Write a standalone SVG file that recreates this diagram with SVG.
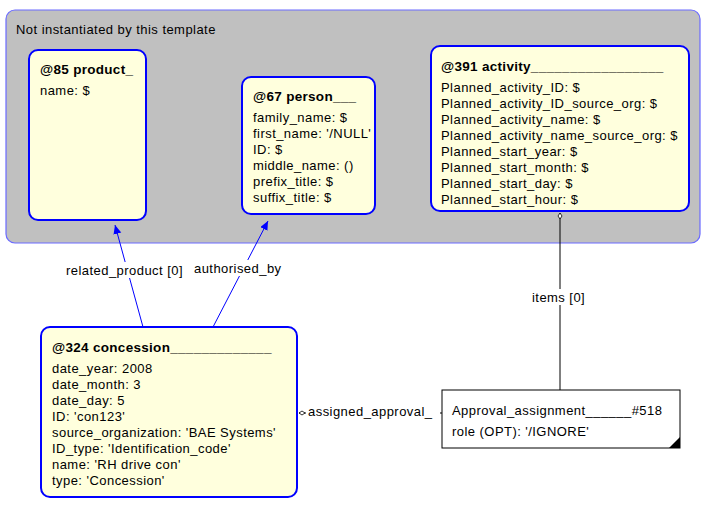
<svg xmlns="http://www.w3.org/2000/svg" width="713" height="515" viewBox="0 0 713 515">
<defs>
<style>
text{font-family:"Liberation Sans",Arial,sans-serif;font-size:13px;letter-spacing:0.45px;fill:#000}
.b{font-weight:bold;font-size:13.5px;letter-spacing:0.3px}
.n{fill:#ffffdd;stroke:#0000ff;stroke-width:2}
.c{stroke:#0000ff;stroke-width:1;fill:none}
.k{stroke:#000;stroke-width:1;fill:none}
</style>
<marker id="ar" markerWidth="10" markerHeight="10" refX="9" refY="4" orient="auto" markerUnits="userSpaceOnUse"><path d="M0,0 L9,4 L0,8 z" fill="#0000ff"/></marker>
<marker id="dm" markerWidth="10" markerHeight="10" refX="1" refY="3" orient="auto" markerUnits="userSpaceOnUse"><path d="M1,3 L4,1 L7,3 L4,5 z" fill="#fff" stroke="#000" stroke-width="0.8"/></marker>
</defs>
<rect width="713" height="515" fill="#fff"/>
<g id="container">
<rect x="6" y="10" width="694" height="233" rx="9" fill="#c0c0c0" stroke="#6a6aff" stroke-width="1.2"/>
<text x="16" y="34">Not instantiated by this template</text>
</g>
<g id="connectors">
<line class="c" x1="143" y1="327" x2="115" y2="225" marker-end="url(#ar)"/>
<line class="c" x1="213" y1="327" x2="268" y2="221" marker-end="url(#ar)"/>
<line class="k" x1="560" y1="213" x2="560" y2="390" marker-start="url(#dm)"/>
<line class="k" x1="299" y1="413" x2="442" y2="413" marker-start="url(#dm)"/>
<rect x="64" y="262" width="126" height="16" fill="#fff"/>
<text x="66" y="275">related_product [0]</text>
<rect x="192" y="260" width="96" height="16" fill="#fff"/>
<text x="194" y="273">authorised_by</text>
<rect x="530" y="289" width="60" height="16" fill="#fff"/>
<text x="532" y="302">items [0]</text>
<rect x="306" y="403" width="134" height="16" fill="#fff"/>
<text x="308" y="416">assigned_approval_</text>
</g>
<g id="product">
<rect class="n" x="29" y="50" width="117" height="170" rx="9"/>
<text class="b" x="40" y="74">@85 product_</text>
<text x="40" y="95">name: $</text>
</g>
<g id="person">
<rect class="n" x="242" y="77" width="133" height="137" rx="9"/>
<text class="b" x="253" y="101">@67 person___</text>
<text x="253" y="122">family_name: $</text>
<text x="253" y="138">first_name: '/NULL'</text>
<text x="253" y="154">ID: $</text>
<text x="253" y="170">middle_name: ()</text>
<text x="253" y="186">prefix_title: $</text>
<text x="253" y="202">suffix_title: $</text>
</g>
<g id="activity">
<rect class="n" x="431" y="46" width="258" height="165" rx="9"/>
<text class="b" x="441" y="71">@391 activity_________________</text>
<text x="441" y="92">Planned_activity_ID: $</text>
<text x="441" y="108">Planned_activity_ID_source_org: $</text>
<text x="441" y="124">Planned_activity_name: $</text>
<text x="441" y="140">Planned_activity_name_source_org: $</text>
<text x="441" y="156">Planned_start_year: $</text>
<text x="441" y="172">Planned_start_month: $</text>
<text x="441" y="188">Planned_start_day: $</text>
<text x="441" y="204">Planned_start_hour: $</text>
</g>
<g id="concession">
<rect class="n" x="41" y="327" width="256" height="170" rx="9"/>
<text class="b" x="52" y="352">@324 concession_____________</text>
<text x="52" y="373">date_year: 2008</text>
<text x="52" y="389">date_month: 3</text>
<text x="52" y="405">date_day: 5</text>
<text x="52" y="421">ID: 'con123'</text>
<text x="52" y="437">source_organization: 'BAE Systems'</text>
<text x="52" y="453">ID_type: 'Identification_code'</text>
<text x="52" y="469">name: 'RH drive con'</text>
<text x="52" y="485">type: 'Concession'</text>
</g>
<g id="approval">
<rect x="442" y="390" width="238" height="58" fill="#fff" stroke="#000" stroke-width="1"/>
<path d="M669,448 L680,437 L680,448 z" fill="#000"/>
<text x="452" y="415">Approval_assignment______#518</text>
<text x="452" y="436">role (OPT): '/IGNORE'</text>
</g>
</svg>
